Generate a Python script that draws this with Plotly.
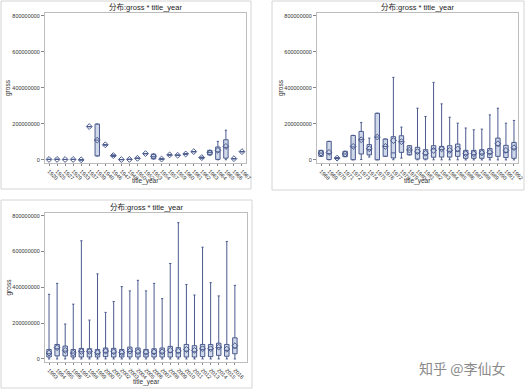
import plotly.graph_objects as go

M = 1e6
# ---------------- data (values in millions) ----------------
p1_years = ['1920','1925','1927','1929','1933','1937','1939','1940','1946','1947','1948','1950',
            '1952','1953','1954','1957','1959','1960','1961','1962','1963','1964','1965','1966','1967']
p1_q1   = [2.8,3,2.5,2.8,0.5,185,22,84,20,2,3,9,35,6,4,28,26,33,46,10,28,3,10,7,46]
p1_med  = [2.8,3,2.5,2.8,0.5,185,110,84,23,2,3,9,35,18,5,28,26,33,46,13,42,45,70,7,46]
p1_q3   = [2.8,3,2.5,2.8,0.5,185,199,84,27,2,3,9,35,32,6,28,26,33,46,15,53,72,112,7,46]
p1_lo   = [2.8,3,2.5,2.8,0.5,185,22,84,20,2,3,9,35,6,4,28,26,33,46,10,28,0.5,1,7,46]
p1_hi   = [2.8,3,2.5,2.8,0.5,185,199,84,27,2,3,9,35,32,6,28,26,33,46,15,53,103,165,7,46]
p1_mean = [2.8,3,2.5,2.8,0.5,185,110,84,24,2,3,9,35,20,5,28,26,33,46,13,40,53,75,7,46]

p2_years = [str(y) for y in range(1968, 1993)]
p2_q1   = [20,2,7,18,1,33,28,0.5,20,11,42,28,5,5,15,16,16,20,9,9,9,13,20,13,9]
p2_med  = [38,35,10,33,72,112,57,127,75,39,101,55,39,29,61,57,48,48,29,29,33,35,79,42,61]
p2_q3   = [53,103,12,48,136,158,85,259,116,129,134,79,70,57,79,75,79,88,53,53,57,63,121,81,97]
p2_lo   = [20,1,7,18,0.5,2,16,0.5,20,1,10,28,0.5,0.5,0.5,0.5,0.5,0.5,0.2,0.2,0.2,0.2,0.2,0.2,0.2]
p2_hi   = [53,103,12,48,136,208,121,259,116,458,182,79,287,241,430,311,237,204,177,167,171,250,287,204,219]
p2_mean = [38,42,10,33,75,112,62,127,75,107,101,55,46,37,53,61,53,61,35,35,39,42,90,53,68]

p3_years = [str(y) for y in range(1993, 2017)]
p3_q1   = [11,17,17,11,11,11,11,13,11,11,11,11,11,11,11,11,11,11,11,13,13,20,15,29]
p3_med  = [29,57,44,33,40,39,29,37,33,29,42,33,29,31,33,37,35,44,40,52,52,63,48,61]
p3_q3   = [53,81,72,53,59,57,53,61,59,53,66,61,53,57,61,70,63,81,74,81,81,88,81,118]
p3_lo   = [0.1]*24
p3_hi   = [361,422,195,306,660,217,475,260,321,404,380,439,380,422,337,533,761,416,357,624,426,352,656,411]
p3_mean = [33,63,48,33,42,42,35,44,40,35,44,40,37,39,40,48,44,53,48,57,57,66,55,74]

y_ticks = [0, 200000000, 400000000, 600000000, 800000000]
title_text = '分布:gross * title_year'

# ---------------- styling ----------------
W, H = 526, 390
LINE = '#4b5b8e'
FILL = 'rgba(196,207,228,0.8)'
FONT = 'Liberation Sans, Arial, Noto Sans CJK SC'

def px_x(p): return p / W
def px_y(p): return 1 - p / H

panels = [
    (p1_years, p1_q1, p1_med, p1_q3, p1_lo, p1_hi, p1_mean, (45, 246), (13, 163), 8, 181),
    (p2_years, p2_q1, p2_med, p2_q3, p2_lo, p2_hi, p2_mean, (317, 518), (13, 163), 281, 181),
    (p3_years, p3_q1, p3_med, p3_q3, p3_lo, p3_hi, p3_mean, (45, 247), (213, 362), 8, 382),
]

fig = go.Figure()
layout = {}
annotations = []
shapes = []

for i, (yrs, q1, med, q3, lo, hi, mean, xr, yr, gx, ty) in enumerate(panels):
    n = '' if i == 0 else str(i + 1)
    xa, ya = 'x' + n, 'y' + n
    fig.add_trace(go.Box(
        x=yrs, q1=[v * M for v in q1], median=[v * M for v in med], q3=[v * M for v in q3],
        lowerfence=[v * M for v in lo], upperfence=[v * M for v in hi],
        xaxis=xa, yaxis=ya, width=0.55, whiskerwidth=0.5,
        fillcolor=FILL, line=dict(color=LINE, width=1), showlegend=False,
        boxpoints=False, hoverinfo='skip'))
    fig.add_trace(go.Scatter(
        x=yrs, y=[v * M for v in mean], mode='markers', xaxis=xa, yaxis=ya,
        marker=dict(symbol='diamond-open', size=4.5, color=LINE, line=dict(width=1, color=LINE)),
        showlegend=False, hoverinfo='skip'))
    xdict = dict(
        domain=[px_x(xr[0]), px_x(xr[1])], anchor=ya, type='category',
        categoryorder='array', categoryarray=yrs,
        tickangle=45, tickfont=dict(size=5.5, color='#333', family=FONT),
        ticks='outside', ticklen=2, tickcolor='#888',
        showline=True, linecolor='#bdbdbd', mirror=True, showgrid=False,
        automargin=False,
    )
    if i == 2:
        xdict['range'] = [-0.5, len(yrs) + 0.5]
    else:
        xdict['range'] = [-0.5, len(yrs) - 0.5]
    ydict = dict(
        domain=[px_y(yr[1]), px_y(yr[0])], anchor=xa,
        range=[-17e6, 815e6], tickvals=y_ticks, ticktext=[str(v) for v in y_ticks],
        tickfont=dict(size=5.5, color='#333', family=FONT),
        ticks='outside', ticklen=3, tickcolor='#888',
        showline=True, linecolor='#bdbdbd', mirror=True, showgrid=False, zeroline=False,
        automargin=False,
    )
    layout['xaxis' + n] = xdict
    layout['yaxis' + n] = ydict
    annotations.append(dict(
        text=title_text, xref='paper', yref='paper',
        x=px_x((xr[0] + xr[1]) / 2), y=px_y(yr[0] - 6), xanchor='center', yanchor='middle',
        showarrow=False, font=dict(size=7.5, color='#222', family=FONT)))
    annotations.append(dict(
        text='title_year', xref='paper', yref='paper',
        x=px_x((xr[0] + xr[1]) / 2), y=px_y(ty), xanchor='center', yanchor='middle',
        showarrow=False, font=dict(size=6.5, color='#333', family=FONT)))
    annotations.append(dict(
        text='gross', xref='paper', yref='paper', textangle=-90,
        x=px_x(gx), y=px_y((yr[0] + yr[1]) / 2), xanchor='center', yanchor='middle',
        showarrow=False, font=dict(size=6.5, color='#333', family=FONT)))

# panel frames
for (x0, y0, x1, y1) in [(1, 1, 251, 189), (272, 1, 524, 190), (1, 200, 252, 388)]:
    shapes.append(dict(type='rect', xref='paper', yref='paper',
                       x0=px_x(x0), x1=px_x(x1), y0=px_y(y1), y1=px_y(y0),
                       line=dict(color='#d4d4d4', width=1), fillcolor='rgba(0,0,0,0)', layer='below'))

annotations.append(dict(
    text='知乎 @李仙女', xref='paper', yref='paper', x=px_x(462), y=px_y(368),
    xanchor='center', yanchor='middle', showarrow=False,
    font=dict(size=14, color='#8a8a8a', family='Noto Sans CJK SC')))

fig.update_layout(
    width=W, height=H, margin=dict(l=0, r=0, t=0, b=0),
    paper_bgcolor='white', plot_bgcolor='white',
    annotations=annotations, shapes=shapes, **layout)

fig.write_html('out.html', config={'displayModeBar': False},
               post_script="document.body.style.margin='0';document.body.style.overflow='hidden';")
